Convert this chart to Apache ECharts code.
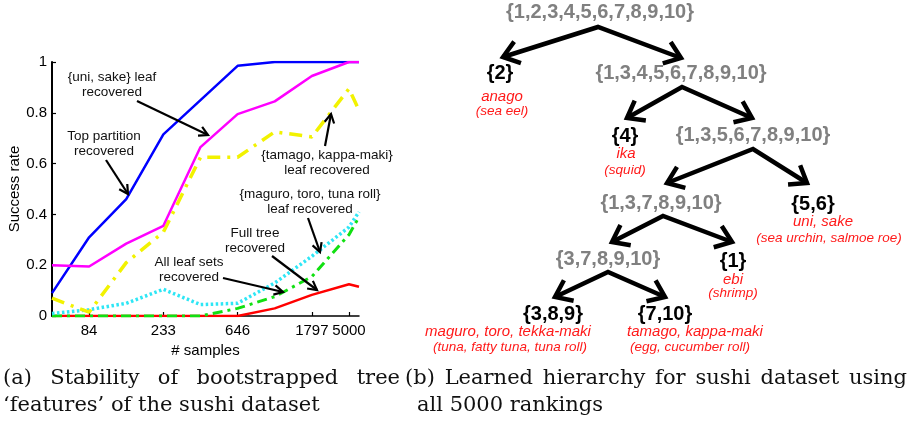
<!DOCTYPE html>
<html>
<head>
<meta charset="utf-8">
<script src="https://cdn.jsdelivr.net/npm/echarts@6/dist/echarts.min.js"></script>
<style>html,body{margin:0;padding:0;background:#fff}#c{width:914px;height:422px}</style>
</head>
<body>
<div id="c"></div>
<script>
// ---------- data (left panel) ----------
const xIdx = [1, 2, 3, 4, 5, 6, 7, 8, 9, 9.27];
const topPartition   = [0.09, 0.31, 0.46, 0.715, 0.85, 0.985, 1, 1, 1, 1];
const uniSakeLeaf    = [0.20, 0.195, 0.285, 0.355, 0.665, 0.795, 0.845, 0.945, 1, 1];
const tamagoKappaLeaf= [0.07, 0.015, 0.21, 0.33, 0.625, 0.625, 0.725, 0.705, 0.895, 0.81];
const maguroToroLeaf = [0.01, 0.025, 0.05, 0.105, 0.045, 0.05, 0.13, 0.235, 0.35, 0.41];
const allLeafSets    = [0, 0, 0, 0, 0, 0.03, 0.076, 0.155, 0.32, 0.39];
const fullTree       = [0, 0, 0, 0, 0, 0, 0.03, 0.083, 0.125, 0.115];
const xTickPos    = [2, 4, 6, 8, 9];
const xTickLabels = ['84', '233', '646', '1797', '5000'];

// ---------- data (right panel: tree) ----------
const treeSetLabels = ['{1,2,3,4,5,6,7,8,9,10}', '{1,3,4,5,6,7,8,9,10}', '{1,3,5,6,7,8,9,10}', '{1,3,7,8,9,10}', '{3,7,8,9,10}'];
const leafSetLabels = ['{2}', '{4}', '{5,6}', '{1}', '{3,8,9}', '{7,10}'];
const leafNames = ['anago', 'ika', 'uni, sake', 'ebi', 'maguro, toro, tekka-maki', 'tamago, kappa-maki'];
const leafGloss = ['(sea eel)', '(squid)', '(sea urchin, salmoe roe)', '(shrimp)', '(tuna, fatty tuna, tuna roll)', '(egg, cucumber roll)'];

// ---------- captions ----------
const capA1 = ['(a)', 'Stability', 'of', 'bootstrapped', 'tree'];
const capA2 = '\u2018features\u2019 of the sushi dataset';
const capB1 = ['(b)', 'Learned', 'hierarchy', 'for', 'sushi', 'dataset', 'using'];
const capB2 = 'all 5000 rankings';

// ---------- layout ----------
const SANS = '"Liberation Sans", Arial, sans-serif';
const SERIF = '"DejaVu Serif", serif';
const internalPos = [[600, 12], [681, 73], [753, 135], [661, 203], [608, 259]];
const leafSetPos  = [[500, 73], [625, 136], [813, 204], [733, 261], [553, 314], [665, 314]];
const leafNamePos = [[502, 97], [626, 154], [823, 222], [733, 280], [508, 332], [695, 332]];
const leafGlossPos= [[502, 111], [625, 170], [829, 238], [733, 293], [510, 347], [690, 347]];
const splits = [
  [[598, 27], [503, 57], [681, 58]],
  [[682, 87], [627, 118], [752, 118]],
  [[753, 149], [667, 183], [807, 183]],
  [[663, 216], [612, 242], [732, 242]],
  [[608, 272], [555, 297], [665, 297]]
];
const annotations = [
  {lines: ['{uni, sake} leaf', 'recovered'], at: [112, 77], arrow: [[137, 101], [208, 135]]},
  {lines: ['Top partition', 'recovered'], at: [104, 136], arrow: [[106, 160], [128, 194]]},
  {lines: ['{tamago, kappa-maki}', 'leaf recovered'], at: [327, 155], arrow: [[325, 146], [331, 114]]},
  {lines: ['{maguro, toro, tuna roll}', 'leaf recovered'], at: [310, 194], arrow: [[308, 218], [320, 252]]},
  {lines: ['Full tree', 'recovered'], at: [255, 233], arrow: [[272, 256], [317, 290]]},
  {lines: ['All leaf sets', 'recovered'], at: [189, 262], arrow: [[223, 278], [283, 292]]}
];

function pairs(ys) { return xIdx.map((x, i) => [x, ys[i]]); }

function arrowHead(tip, from, len, ang, w) {
  const a = Math.atan2(tip[1] - from[1], tip[0] - from[0]);
  const p1 = [tip[0] - len * Math.cos(a - ang), tip[1] - len * Math.sin(a - ang)];
  const p2 = [tip[0] - len * Math.cos(a + ang), tip[1] - len * Math.sin(a + ang)];
  return {type: 'polyline', shape: {points: [p1, tip, p2]},
    style: {stroke: '#000', lineWidth: w, fill: null, lineJoin: 'miter', lineCap: 'butt'}, z: 100};
}
function txt(s, x, y, font, fill, align) {
  return {type: 'text', x: x, y: y, z: 100,
    style: {text: s, font: font, fill: fill, align: align || 'center', textAlign: align || 'center',
      verticalAlign: 'middle', textVerticalAlign: 'middle'}};
}

const measureCtx = document.createElement('canvas').getContext('2d');
function justify(words, x0, x1, y, font) {
  measureCtx.font = font;
  const widths = words.map(w => measureCtx.measureText(w).width);
  const total = widths.reduce((a, b) => a + b, 0);
  const gap = (x1 - x0 - total) / (words.length - 1);
  const out = [];
  let x = x0;
  words.forEach((w, i) => { out.push(txt(w, x, y, font, '#111', 'left')); x += widths[i] + gap; });
  return out;
}

const graphics = [];
// left annotations
const annFont = '13.5px ' + SANS;
annotations.forEach(a => {
  a.lines.forEach((l, i) => graphics.push(txt(l, a.at[0], a.at[1] + i * 15.5, annFont, '#111')));
  const [s, e] = a.arrow;
  graphics.push({type: 'line', shape: {x1: s[0], y1: s[1], x2: e[0], y2: e[1]},
    style: {stroke: '#000', lineWidth: 2.2}, z: 100});
  graphics.push(arrowHead(e, s, 10, 0.5, 2.2));
});
// tree arrows
splits.forEach(sp => {
  const [apex, l, r] = sp;
  graphics.push({type: 'polyline', shape: {points: [l, apex, r]},
    style: {stroke: '#000', lineWidth: 4.5, fill: null, lineJoin: 'miter'}, z: 100});
  graphics.push(arrowHead(l, apex, 19, 0.64, 4.5));
  graphics.push(arrowHead(r, apex, 19, 0.64, 4.5));
});
// tree text
treeSetLabels.forEach((s, i) => graphics.push(txt(s, internalPos[i][0], internalPos[i][1], 'bold 20px ' + SANS, '#808080')));
leafSetLabels.forEach((s, i) => graphics.push(txt(s, leafSetPos[i][0], leafSetPos[i][1], 'bold 20px ' + SANS, '#000')));
leafNames.forEach((s, i) => graphics.push(txt(s, leafNamePos[i][0], leafNamePos[i][1], 'italic 15px ' + SANS, '#ff1a1a')));
leafGloss.forEach((s, i) => graphics.push(txt(s, leafGlossPos[i][0], leafGlossPos[i][1], 'italic 13.5px ' + SANS, '#ff1a1a')));
// captions
const capFont = '21px ' + SERIF;
justify(capA1, 3, 400, 379, capFont).forEach(g => graphics.push(g));
justify(capB1, 405, 907, 379, capFont).forEach(g => graphics.push(g));
graphics.push(txt(capA2, 3, 406, capFont, '#111', 'left'));
graphics.push(txt(capB2, 417, 406, capFont, '#111', 'left'));

const chart = echarts.init(document.getElementById('c'), null, {renderer: 'canvas'});
chart.setOption({
  animation: false,
  backgroundColor: '#fff',
  grid: {left: 52, right: 555, top: 62, bottom: 106, outerBoundsMode: 'none', containLabel: false},
  xAxis: {
    type: 'value', min: 1, max: 9.27,
    name: '# samples', nameLocation: 'middle', nameGap: 25,
    nameTextStyle: {fontFamily: SANS, fontSize: 15, color: '#000'},
    axisLine: {show: true, lineStyle: {color: '#000', width: 1.5}},
    axisTick: {show: true, inside: true, length: 4, customValues: xTickPos, lineStyle: {color: '#000', width: 1.2}},
    axisLabel: {customValues: xTickPos, margin: 7, fontFamily: SANS, fontSize: 15, color: '#000',
      formatter: v => { const k = xTickPos.indexOf(v); return k >= 0 ? xTickLabels[k] : ''; }},
    splitLine: {show: false}
  },
  yAxis: {
    type: 'value', min: 0, max: 1, interval: 0.2,
    name: 'Success rate', nameLocation: 'middle', nameGap: 25, nameRotate: 90,
    nameTextStyle: {fontFamily: SANS, fontSize: 15, color: '#000'},
    axisLine: {show: true, lineStyle: {color: '#000', width: 2}},
    axisTick: {show: true, inside: true, length: 4, lineStyle: {color: '#000', width: 1.2}},
    axisLabel: {margin: 5, fontFamily: SANS, fontSize: 15, color: '#000'},
    splitLine: {show: false}
  },
  series: [
    {name: 'Full tree recovered', type: 'line', data: pairs(fullTree), symbol: 'none',
      lineStyle: {color: '#ff0000', width: 2.5}},
    {name: 'All leaf sets recovered', type: 'line', data: pairs(allLeafSets), symbol: 'none',
      lineStyle: {color: '#11e011', width: 3, type: [10, 5, 3, 5]}},
    {name: '{maguro, toro, tuna roll} leaf recovered', type: 'line', data: pairs(maguroToroLeaf), symbol: 'none',
      lineStyle: {color: '#2ee6f5', width: 3.5, type: [2.5, 2.5]}},
    {name: '{tamago, kappa-maki} leaf recovered', type: 'line', data: pairs(tamagoKappaLeaf), symbol: 'none',
      lineStyle: {color: '#f2f200', width: 3.5, type: [13, 7, 3, 7]}},
    {name: 'Top partition recovered', type: 'line', data: pairs(topPartition), symbol: 'none',
      lineStyle: {color: '#0000ff', width: 2.5}},
    {name: '{uni, sake} leaf recovered', type: 'line', data: pairs(uniSakeLeaf), symbol: 'none',
      lineStyle: {color: '#ff00ff', width: 2.5}}
  ],
  graphic: {elements: graphics}
});
</script>
</body>
</html>
